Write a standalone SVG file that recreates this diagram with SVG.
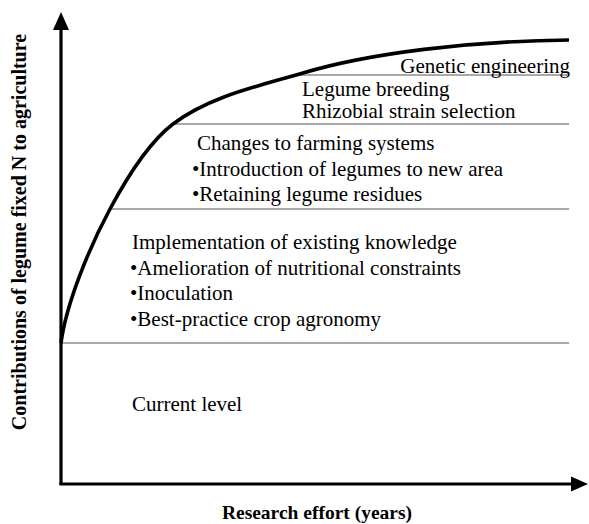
<svg xmlns="http://www.w3.org/2000/svg" width="589" height="524" viewBox="0 0 589 524">
<style>
.t{font-family:"Liberation Serif","Times New Roman",serif;font-size:21px;fill:#000}
.lab{font-family:"Liberation Serif","Times New Roman",serif;font-size:20px;font-weight:bold;fill:#000}
.div{stroke:#555;stroke-width:1.2;fill:none}
.ax{stroke:#000;stroke-width:3.2;fill:none}
</style>
<rect width="589" height="524" fill="#fff"/>
<g id="connectors">
<line class="div" x1="61" y1="343" x2="569" y2="343"/>
<line class="div" x1="110" y1="209" x2="569" y2="209"/>
<line class="div" x1="173" y1="124" x2="569" y2="124"/>
<line class="div" x1="300" y1="75" x2="569" y2="75"/>
<path id="curve" d="M61,343 C66,305 88,250 110,209 C125,181 148,143 173,124 C210,96 260,85.8 303,73 C370,53 470,41 569,40" stroke="#000" stroke-width="3.6" fill="none"/>
</g>
<g id="axes">
<line class="ax" x1="61" y1="485" x2="61" y2="26"/>
<polygon points="61,12 53,30 69,30" fill="#000"/>
<line class="ax" x1="59.5" y1="484" x2="574" y2="484"/>
<polygon points="588,484 571,476.5 571,491.5" fill="#000"/>
</g>
<g id="ylabel"><text class="lab" transform="translate(26,232) rotate(-90)" text-anchor="middle">Contributions of legume fixed N to agriculture</text></g>
<g id="xlabel"><text class="lab" x="317" y="519" text-anchor="middle" style="font-size:19.5px">Research effort (years)</text></g>
<g id="genetic"><text class="t" x="570" y="73" text-anchor="end">Genetic engineering</text></g>
<g id="breeding">
<text class="t" x="302" y="96">Legume breeding</text>
<text class="t" x="302" y="118">Rhizobial strain selection</text>
</g>
<g id="farming">
<text class="t" x="197" y="150">Changes to farming systems</text>
<text class="t" x="192" y="176">•Introduction of legumes to new area</text>
<text class="t" x="192" y="201">•Retaining legume residues</text>
</g>
<g id="implementation">
<text class="t" x="132" y="249">Implementation of existing knowledge</text>
<text class="t" x="130" y="275">•Amelioration of nutritional constraints</text>
<text class="t" x="130" y="300">•Inoculation</text>
<text class="t" x="130" y="326">•Best-practice crop agronomy</text>
</g>
<g id="current"><text class="t" x="132" y="411">Current level</text></g>
</svg>
